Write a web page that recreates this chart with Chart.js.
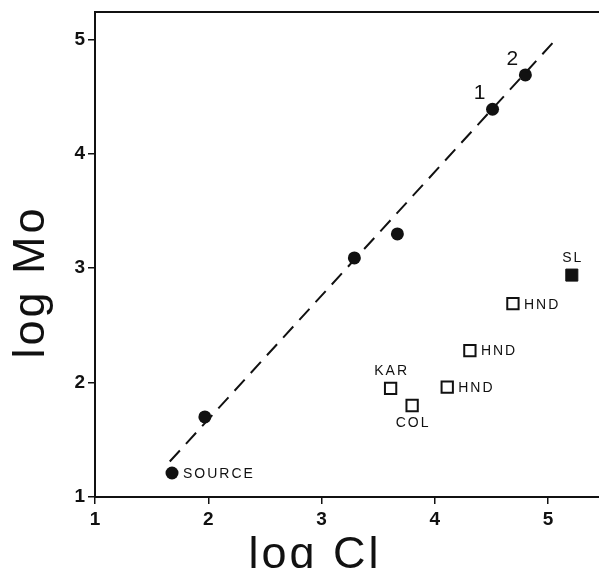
<!DOCTYPE html>
<html>
<head>
<meta charset="utf-8">
<script src="https://cdn.jsdelivr.net/npm/chart.js@4/dist/chart.umd.min.js"></script>
<style>
html,body{margin:0;padding:0;background:#fff;}
canvas{display:block;}
</style>
</head>
<body>
<canvas id="c" width="599" height="568"></canvas>
<script>
// ---- data ----
const logClCircles = [1.68, 1.97, 3.29, 3.67, 4.51, 4.80];
const logMoCircles = [1.21, 1.70, 3.09, 3.30, 4.39, 4.69];
const circleLabels = ['SOURCE', '', '', '', '1', '2'];

const logClOpen = [3.61, 3.80, 4.11, 4.31, 4.69];
const logMoOpen = [1.95, 1.80, 1.96, 2.28, 2.69];
const openLabels = ['KAR', 'COL', 'HND', 'HND', 'HND'];

const logClFilledSq = [5.21];
const logMoFilledSq = [2.94];
const filledSqLabels = ['SL'];

const fitLineCl = [1.66, 5.06];
const fitLineMo = [1.31, 4.99];

const xTicks = [1, 2, 3, 4, 5];
const yTicks = [1, 2, 3, 4, 5];
const xTitle = 'log Cl';
const yTitle = 'log Mo';

const pts = (xs, ys) => xs.map((x, i) => ({x: x, y: ys[i]}));
const INK = '#111';

const labelPlugin = {
  id: 'pointLabels',
  afterDatasetsDraw(chart) {
    const ctx = chart.ctx;
    chart.data.datasets.forEach((ds, di) => {
      if (!ds.pointLabels) return;
      const meta = chart.getDatasetMeta(di);
      meta.data.forEach((el, i) => {
        const txt = ds.pointLabels[i];
        if (!txt) return;
        const place = ds.labelPlace[i];
        ctx.save();
        ctx.fillStyle = INK;
        ctx.textBaseline = 'middle';
        if (place === 'num') {
          ctx.font = '21px "Liberation Sans", Arial, sans-serif';
          ctx.textAlign = 'center';
          ctx.fillText(txt, el.x - 13, el.y - 16);
        } else {
          ctx.font = '14px "Liberation Sans", Arial, sans-serif';
          ctx.letterSpacing = '2px';
          if (place === 'right') {
            ctx.textAlign = 'left';
            ctx.fillText(txt, el.x + 11, el.y + 1);
          } else if (place === 'above') {
            ctx.textAlign = 'center';
            ctx.fillText(txt, el.x + 1, el.y - 17);
          } else if (place === 'below') {
            ctx.textAlign = 'center';
            ctx.fillText(txt, el.x + 1, el.y + 18);
          }
        }
        ctx.restore();
      });
    });
  }
};

const framePlugin = {
  id: 'frame',
  afterDraw(chart) {
    const ctx = chart.ctx, a = chart.chartArea;
    ctx.save();
    ctx.strokeStyle = INK;
    ctx.lineWidth = 2;
    ctx.beginPath();
    ctx.moveTo(a.left - 1, a.top);
    ctx.lineTo(a.right, a.top);
    ctx.stroke();
    // axis titles
    ctx.fillStyle = INK;
    ctx.font = '45px "Liberation Sans", Arial, sans-serif';
    ctx.letterSpacing = '3px';
    ctx.textAlign = 'center';
    ctx.textBaseline = 'alphabetic';
    ctx.fillText(xTitle, 315, 568);
    ctx.translate(44, 282);
    ctx.rotate(-Math.PI / 2);
    ctx.fillText(yTitle, 0, 0);
    ctx.restore();
  }
};

new Chart(document.getElementById('c'), {
  type: 'scatter',
  data: {
    datasets: [
      {
        type: 'line',
        data: pts(fitLineCl, fitLineMo),
        borderColor: INK,
        borderWidth: 2,
        borderDash: [15, 9],
        pointRadius: 0,
        fill: false
      },
      {
        data: pts(logClCircles, logMoCircles),
        pointStyle: 'circle',
        pointRadius: 6.5,
        backgroundColor: INK,
        borderColor: INK,
        borderWidth: 0,
        pointLabels: circleLabels,
        labelPlace: ['right', '', '', '', 'num', 'num']
      },
      {
        data: pts(logClOpen, logMoOpen),
        pointStyle: 'rect',
        pointRadius: 8,
        backgroundColor: '#fff',
        borderColor: INK,
        borderWidth: 2,
        pointLabels: openLabels,
        labelPlace: ['above', 'below', 'right', 'right', 'right']
      },
      {
        data: pts(logClFilledSq, logMoFilledSq),
        pointStyle: 'rect',
        pointRadius: 8.5,
        backgroundColor: INK,
        borderColor: INK,
        borderWidth: 1,
        pointLabels: filledSqLabels,
        labelPlace: ['above']
      }
    ]
  },
  options: {
    responsive: false,
    devicePixelRatio: 1,
    animation: false,
    layout: {autoPadding: false, padding: {top: 12, right: 0, left: 0, bottom: 0}},
    plugins: {legend: {display: false}, tooltip: {enabled: false}},
    scales: {
      x: {
        type: 'linear',
        min: 1,
        max: 5.45,
        afterFit: s => { s.height = 71; s.paddingRight = 0; s.paddingLeft = 0; },
        afterBuildTicks: s => { s.ticks = xTicks.map(v => ({value: v})); },
        ticks: {
          includeBounds: false,
          color: INK,
          padding: 4,
          font: {family: '"Liberation Sans", Arial, sans-serif', size: 19, weight: 'bold'}
        },
        grid: {display: true, drawOnChartArea: false, drawTicks: true, tickLength: 7, color: INK, lineWidth: 1.5},
        border: {display: true, color: INK, width: 2}
      },
      y: {
        type: 'linear',
        min: 1,
        max: 5.24,
        afterFit: s => { s.width = 95; s.paddingTop = 0; s.paddingBottom = 0; },
        afterBuildTicks: s => { s.ticks = yTicks.map(v => ({value: v})); },
        ticks: {
          includeBounds: false,
          color: INK,
          padding: 3,
          font: {family: '"Liberation Sans", Arial, sans-serif', size: 19, weight: 'bold'}
        },
        grid: {display: true, drawOnChartArea: false, drawTicks: true, tickLength: 7, color: INK, lineWidth: 1.5},
        border: {display: true, color: INK, width: 2}
      }
    }
  },
  plugins: [labelPlugin, framePlugin]
});
</script>
</body>
</html>
